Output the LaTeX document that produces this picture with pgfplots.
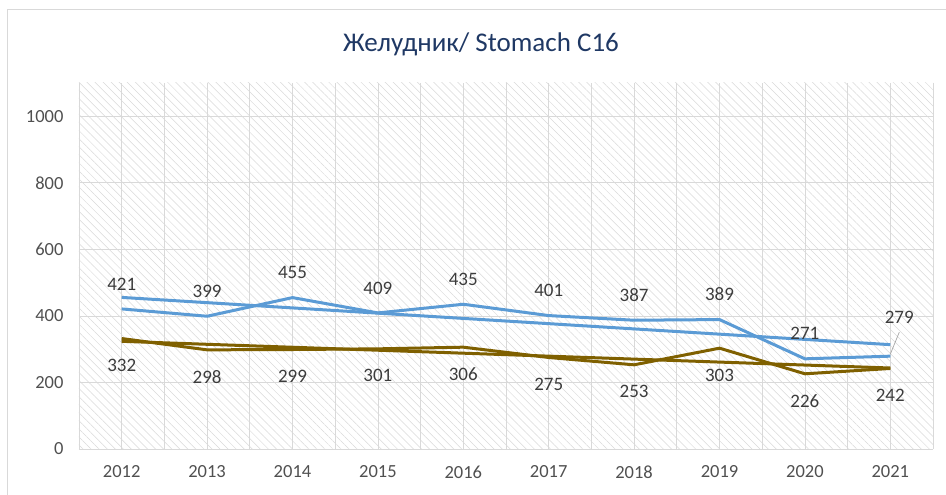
\documentclass[border=0pt]{standalone}
\usepackage{fontspec}
\setmainfont{Carlito}
\usepackage{pgfplots}
\usepackage{pgfplotstable}
\pgfplotsset{compat=1.18}
\usetikzlibrary{patterns.meta}
\definecolor{sblue}{RGB}{91,155,213}
\definecolor{sbrown}{RGB}{127,96,0}
\definecolor{tgray}{RGB}{80,80,80}
\definecolor{lgray}{RGB}{60,60,60}
\definecolor{ttl}{RGB}{31,56,100}
\definecolor{gridc}{RGB}{217,217,217}

\pgfplotstableread{
x y dx dy
0 421 0 25
1 399 0 25
2 455 0 25
3 409 0 25
4 435 0 25
5 401 0 25
6 387 0 25
7 389 0 25
8 271 0 25
9 279 9 39
}\blueseries

\pgfplotstableread{
x y dx dy
0 332 0 -27
1 298 0 -27
2 299 0 -27
3 301 0 -27
4 306 0 -27
5 275 0 -27
6 253 0 -27
7 303 0 -27
8 226 0 -27
9 242 0 -27
}\brownseries

\begin{document}
\begin{tikzpicture}
\useasboundingbox (0pt,0pt) rectangle (946pt,495pt);
\draw[gridc, line width=0.8pt] (7pt,-10pt) rectangle (980pt,486pt);
\node[anchor=base, font=\fontsize{27}{30}\selectfont, text=ttl] at (481pt,443pt) {Желудник/ Stomach C16};
\begin{axis}[
  at={(79pt,46pt)}, anchor=south west,
  scale only axis, width=854pt, height=366pt,
  xmin=-0.5, xmax=9.5, ymin=0, ymax=1100,
  xtick={0,1,2,3,4,5,6,7,8,9},
  xticklabels={2012,2013,2014,2015,2016,2017,2018,2019,2020,2021},
  ytick={0,200,400,600,800,1000},
  minor x tick num=1,
  extra x ticks={-0.5,9.5}, extra x tick labels={},
  extra x tick style={grid=major},
  xmajorgrids, xminorgrids, ymajorgrids,
  grid style={gridc, line width=0.8pt},
  major tick length=0pt, minor tick length=0pt,
  axis line style={draw=none},
  tick label style={font=\fontsize{18.5}{20}\selectfont, text=tgray},
  xticklabel style={yshift=-13pt},
  yticklabel style={xshift=-12pt},
  /pgf/number format/assume math mode=true,
  /pgf/number format/1000 sep={},
  axis background/.style={pattern={Lines[angle=-45,distance=5.7pt,line width=0.5pt]}, pattern color=black!15},
  clip=false,
]
\addplot[sbrown, line width=3pt, no markers] coordinates {(0,323.6) (9,243.4)};
\addplot[sblue, line width=3pt, no markers] coordinates {(0,455.6) (9,313.6)};
\addplot[sbrown, line width=3pt, no markers,
  visualization depends on={\thisrow{dx} \as \dx},
  visualization depends on={\thisrow{dy} \as \dy},
  nodes near coords,
  every node near coord/.append style={anchor=center, xshift=\dx pt, yshift=\dy pt, font=\fontsize{19}{20}\selectfont, text=lgray}]
  table[x=x,y=y]{\brownseries};
\addplot[sblue, line width=3pt, no markers,
  visualization depends on={\thisrow{dx} \as \dx},
  visualization depends on={\thisrow{dy} \as \dy},
  nodes near coords,
  every node near coord/.append style={anchor=center, xshift=\dx pt, yshift=\dy pt, font=\fontsize{19}{20}\selectfont, text=lgray}]
  table[x=x,y=y]{\blueseries};
\draw[black!35, line width=0.7pt] ([yshift=2pt]axis cs:9,279) -- ([xshift=9pt,yshift=24pt]axis cs:9,279);
\end{axis}
\end{tikzpicture}
\end{document}
